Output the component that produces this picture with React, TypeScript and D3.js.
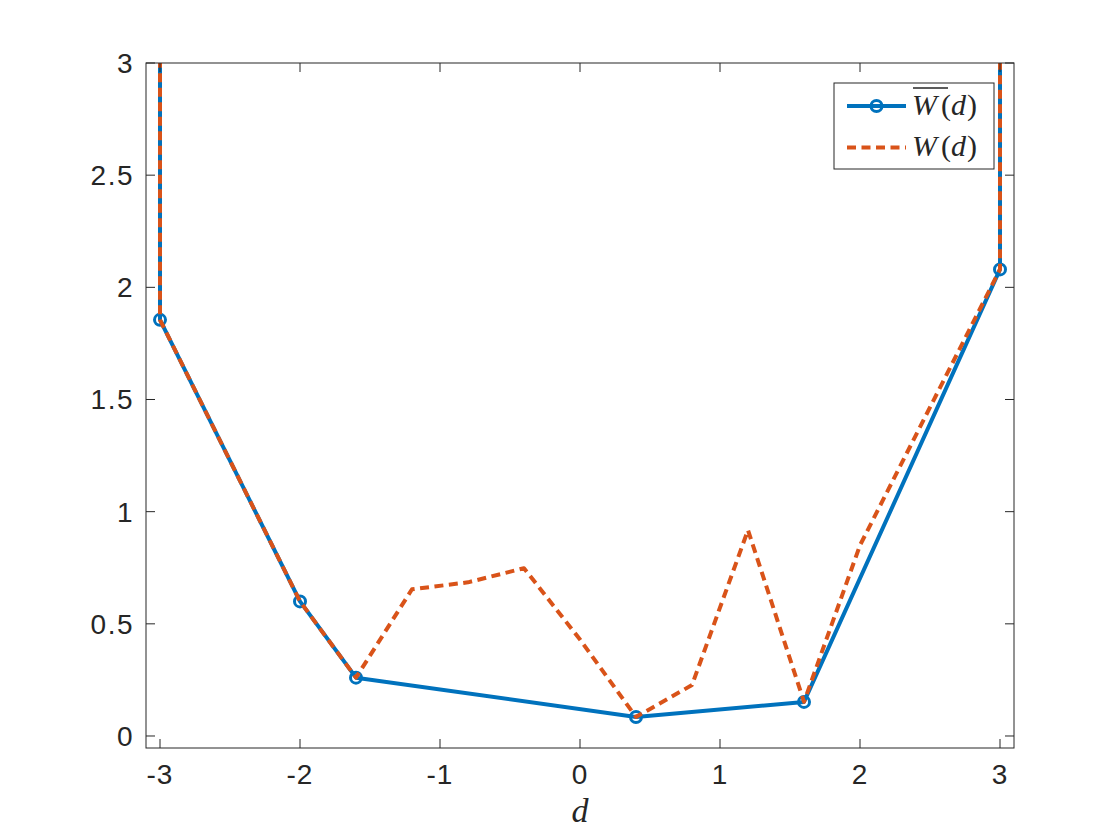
import React from "react";
import * as d3 from "d3";

const dBar = [-3, -3, -2, -1.6, 0.4, 1.6, 3, 3];
const wBar = [10, 1.855, 0.6, 0.26, 0.085, 0.152, 2.08, 10];
const dFull = [-3, -3, -2, -1.6, -1.2, -0.8, -0.4, 0, 0.4, 0.8, 1.2, 1.6, 2, 3, 3];
const wFull = [10, 1.855, 0.6, 0.26, 0.654, 0.685, 0.748, 0.43, 0.085, 0.227, 0.918, 0.152, 0.85, 2.08, 10];
const xTicks = [-3, -2, -1, 0, 1, 2, 3];
const yTicks = [0, 0.5, 1, 1.5, 2, 2.5, 3];

const W = 1120, H = 840;
const L = 146, R = 1014, T = 63, B = 748;
const BLUE = "#0072BD", ORANGE = "#D95319", AX = "#262626";

export default function App() {
  const x = d3.scaleLinear().domain([-3.1, 3.1]).range([L, R]);
  const y = d3.scaleLinear().domain([-0.0535, 3]).range([B, T]);
  const line = d3.line<[number, number]>().x(p => x(p[0])).y(p => y(p[1]));
  const barPts: [number, number][] = dBar.map((d, i) => [d, wBar[i]]);
  const fullPts: [number, number][] = dFull.map((d, i) => [d, wFull[i]]);
  const tickFont = "'Liberation Sans', Arial, Helvetica, sans-serif";
  const serif = "'Liberation Serif', 'Times New Roman', serif";
  return (
    <svg width={W} height={H} style={{ position: "absolute", left: 0, top: 0, background: "#fff" }}>
      <defs>
        <clipPath id="plotClip">
          <rect x={L} y={T} width={R - L} height={B - T} />
        </clipPath>
      </defs>
      <rect x={0} y={0} width={W} height={H} fill="#fff" />
      <rect x={L} y={T} width={R - L} height={B - T} fill="#fff" />
      <g clipPath="url(#plotClip)">
        <path d={line(barPts) || ""} fill="none" stroke={BLUE} strokeWidth={4} strokeLinejoin="round" />
        {barPts.map((p, i) => (
          <circle key={i} cx={x(p[0])} cy={y(p[1])} r={5.5} fill="none" stroke={BLUE} strokeWidth={3} />
        ))}
        <path d={line(fullPts) || ""} fill="none" stroke={ORANGE} strokeWidth={4} strokeDasharray="9,5.5" strokeLinejoin="round" />
      </g>
      {/* axes box */}
      <rect x={L} y={T} width={R - L} height={B - T} fill="none" stroke={AX} strokeWidth={1} />
      {xTicks.map(t => (
        <g key={"x" + t}>
          <line x1={x(t)} x2={x(t)} y1={B} y2={B - 9} stroke={AX} />
          <line x1={x(t)} x2={x(t)} y1={T} y2={T + 9} stroke={AX} />
          <text x={x(t)} y={784} textAnchor="middle" fontFamily={tickFont} fontSize={28} letterSpacing={1} fill={AX}>{t < 0 ? "-" + Math.abs(t) : String(t)}</text>
        </g>
      ))}
      {yTicks.map(t => (
        <g key={"y" + t}>
          <line x1={L} x2={L + 9} y1={y(t)} y2={y(t)} stroke={AX} />
          <line x1={R} x2={R - 9} y1={y(t)} y2={y(t)} stroke={AX} />
          <text x={134} y={y(t) + 10} textAnchor="end" fontFamily={tickFont} fontSize={28} letterSpacing={1.5} fill={AX}>{String(t)}</text>
        </g>
      ))}
      <text x={580} y={822} textAnchor="middle" fontFamily={serif} fontStyle="italic" fontSize={34} fill={AX}>d</text>
      {/* legend */}
      <g>
        <rect x={834} y={83} width={160} height={86} fill="#fff" stroke={AX} strokeWidth={1} />
        <line x1={847} x2={906} y1={106} y2={106} stroke={BLUE} strokeWidth={4} />
        <circle cx={876.5} cy={106} r={5.5} fill="none" stroke={BLUE} strokeWidth={3} />
        <line x1={847} x2={906} y1={147.5} y2={147.5} stroke={ORANGE} strokeWidth={4} strokeDasharray="9,5.5" />
        <line x1={913} x2={948} y1={88} y2={88} stroke={AX} strokeWidth={1.3} />
        <text x={912} y={115} fontFamily={serif} fontSize={30} fill={AX}>
          <tspan fontStyle="italic">W</tspan><tspan dx={4}>(</tspan><tspan fontStyle="italic">d</tspan><tspan dx={1}>)</tspan>
        </text>
        <text x={912} y={156} fontFamily={serif} fontSize={30} fill={AX}>
          <tspan fontStyle="italic">W</tspan><tspan dx={4}>(</tspan><tspan fontStyle="italic">d</tspan><tspan dx={1}>)</tspan>
        </text>
      </g>
    </svg>
  );
}
